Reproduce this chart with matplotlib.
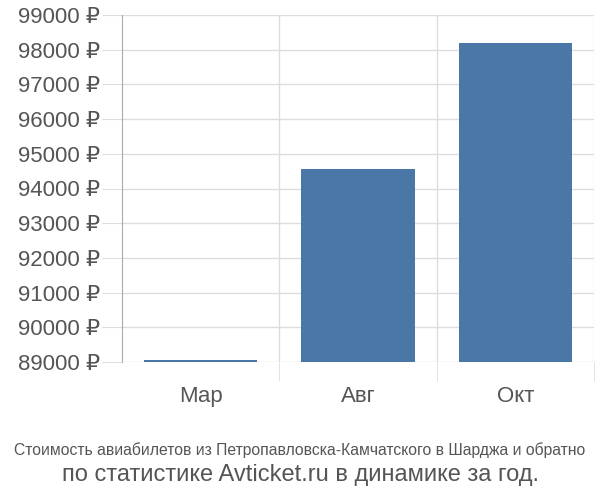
import matplotlib
matplotlib.use('Agg')
import matplotlib.pyplot as plt

plt.rcParams['font.family'] = ['Liberation Sans', 'DejaVu Sans']

months = ['Мар', 'Авг', 'Окт']
prices = [89050, 94550, 98200]
yticks = list(range(89000, 100000, 1000))
ytick_labels = [str(v) + ' ₽' for v in yticks]
base = 89000

fig = plt.figure(figsize=(6, 5), dpi=100)
ax = fig.add_axes([0.2033, 0.276, 0.7867, 0.694])

x = list(range(len(months)))
ax.bar(x, [p - base for p in prices], bottom=base, width=0.72,
       color='#4b77a7', zorder=3)

ax.set_xlim(-0.5, len(months) - 0.5)
ax.set_ylim(89000, 99000)
ax.set_yticks(yticks)
ax.set_yticklabels(ytick_labels)
ax.set_xticks(x)
ax.set_xticklabels(months)

# category separators
ax.set_xticks([i + 0.5 for i in x], minor=True)
ax.grid(axis='x', which='minor', color='#dddddd', linewidth=1)
ax.grid(axis='y', which='major', color='#dddddd', linewidth=1)

for s in ['top', 'right', 'bottom']:
    ax.spines[s].set_visible(False)
ax.spines['left'].set_color('#aaaaaa')

ax.tick_params(axis='y', length=14.5, color='#dddddd', labelsize=16,
               labelcolor='#555555', pad=1.5)
ax.tick_params(axis='x', which='major', length=0, labelsize=16,
               labelcolor='#555555', pad=17)
ax.tick_params(axis='x', which='minor', length=14, color='#dddddd')

fig.text(0.5, 0.1, 'Стоимость авиабилетов из Петропавловска-Камчатского в Шарджа и обратно',
         ha='center', va='center', fontsize=11.3, color='#555555')
fig.text(0.5, 0.05, 'по статистике Avticket.ru в динамике за год.',
         ha='center', va='center', fontsize=17, color='#555555')

fig.savefig('out.png', dpi=100)
